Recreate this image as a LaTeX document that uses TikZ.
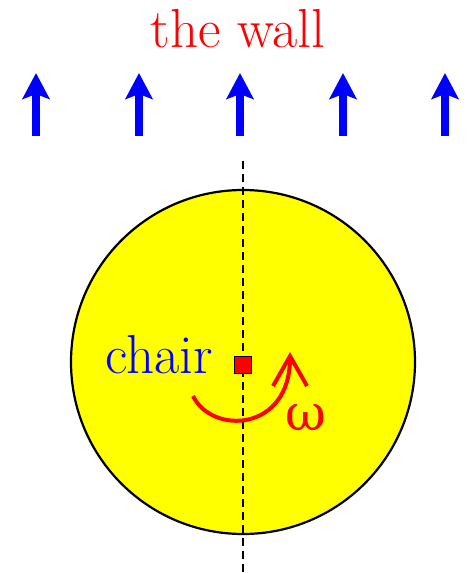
\documentclass[tikz,border=0pt]{standalone}
\usepackage{fontspec}
\newfontfamily\omgfont{DejaVu Serif}
\usetikzlibrary{arrows.meta}
\definecolor{pblue}{RGB}{0,0,255}
\definecolor{pred}{RGB}{255,0,0}
\definecolor{pyellow}{RGB}{255,255,0}
\begin{document}
\begin{tikzpicture}[x=1pt,y=-1pt,
  wallarrow/.style={pblue,line width=8pt,-{Stealth[length=26pt,width=27pt,inset=5pt]}},
  bigtext/.style={font=\fontsize{55}{62}\selectfont,inner sep=0pt,anchor=base}]
\useasboundingbox (0,0) rectangle (469,573);
% wall label
\node[bigtext,text=pred] (wall) at (238,47) {the wall};
% arrows
\foreach \i/\x in {1/36,2/139,3/240,4/343,5/445}{
  \coordinate (b\i) at (\x,136);
  \coordinate (t\i) at (\x,73);
  \draw[wallarrow] (b\i) -- (t\i);
}
% disk
\node[draw=black,fill=pyellow,line width=2.2pt,circle,minimum size=344pt,inner sep=0pt] (disk) at (243,362) {};
% dashed axis
\coordinate (axtop) at (243,161);
\coordinate (axbot) at (243,573);
\draw[black,line width=2pt,dash pattern=on 8pt off 5pt] (axtop) -- (axbot);
% chair square
\node[draw=black,fill=pred,line width=1.5pt,minimum size=17pt,inner sep=0pt] (sq) at (243,365) {};
% labels
\node[bigtext,text=pblue] (chair) at (159,373) {chair};
\node[bigtext,text=pred,font=\omgfont\fontsize{50}{56}\selectfont] (omega) at (306,430) {ω};
% rotation arrow
\coordinate (rs) at (193,396);
\coordinate (re) at (290,352);
\draw[pred,line width=4pt,-{Straight Barb[length=30pt,width=34pt]}] (rs) .. controls (212,435) and (290,432) .. (re);
\end{tikzpicture}
\end{document}
